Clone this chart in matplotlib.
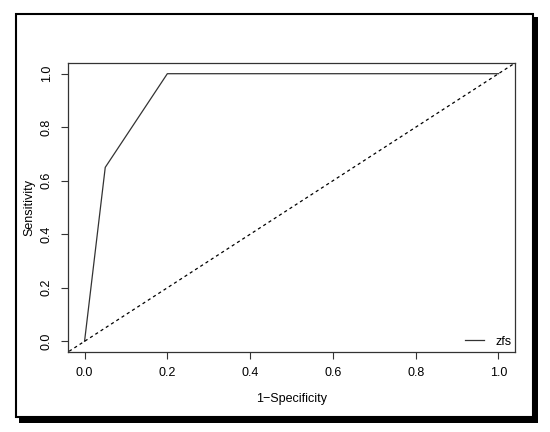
import matplotlib
matplotlib.use("Agg")
import matplotlib.pyplot as plt
from matplotlib.patches import Rectangle

# ROC points for zfs
fpr = [0.0, 0.05, 0.2, 1.0]
tpr = [0.0, 0.65, 1.0, 1.0]
ticks = [0.0, 0.2, 0.4, 0.6, 0.8, 1.0]

plt.rcParams['font.family'] = ['Liberation Sans', 'DejaVu Sans']

W, H = 550, 432
fig = plt.figure(figsize=(W / 100, H / 100), dpi=100)

# outer framed box with drop shadow (pixel coords)
fig.patches.append(Rectangle((19, H - 423), 519, 406, transform=None,
                             facecolor='black', edgecolor='none', zorder=-2))
fig.patches.append(Rectangle((16, H - 417), 517, 403.5, transform=None,
                             facecolor='white', edgecolor='black', lw=1.5, zorder=-1))

ax = fig.add_axes([68 / W, 1 - 352 / H, 447 / W, 289 / H])
ax.set_facecolor('none')
ax.plot(fpr, tpr, color='#333333', lw=0.9, label='zfs')
ax.plot([-0.05, 1.05], [-0.05, 1.05], color='black', lw=0.9, ls=(0, (2.5, 2.5)))

ax.set_xlim(-0.04, 1.04)
ax.set_ylim(-0.04, 1.04)
ax.set_xticks(ticks)
ax.set_yticks(ticks)
ax.set_xticklabels([f'{t:.1f}' for t in ticks], fontsize=9)
ax.set_yticklabels([f'{t:.1f}' for t in ticks], fontsize=9, rotation=90, va='center')
ax.tick_params(length=5, width=0.8, color='#333333', pad=6)
for s in ax.spines.values():
    s.set_linewidth(0.9)
    s.set_color('#333333')

ax.set_xlabel('1\u2212Specificity', fontsize=9, labelpad=10)
ax.set_ylabel('Sensitivity', fontsize=9, labelpad=4)

ax.legend(loc='lower right', bbox_to_anchor=(0.992, 0.015), frameon=False,
          fontsize=9, handlelength=1.5, handletextpad=0.9,
          borderaxespad=0, borderpad=0)

fig.savefig('out.png', dpi=100)
